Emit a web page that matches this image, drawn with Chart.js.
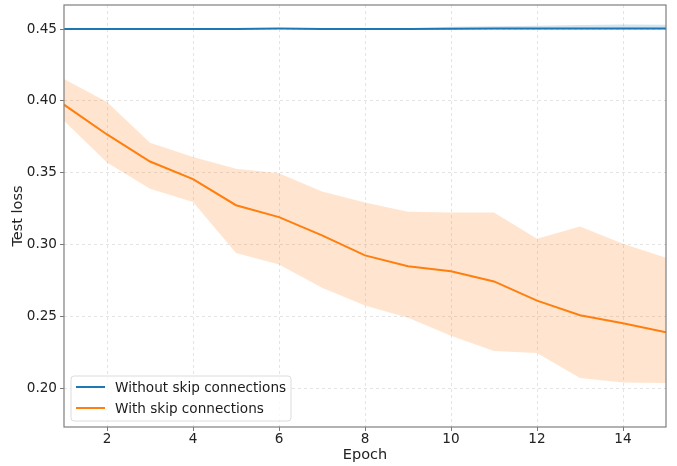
<!DOCTYPE html>
<html>
<head>
<meta charset="utf-8">
<script src="https://cdn.jsdelivr.net/npm/chart.js@4/dist/chart.umd.min.js"></script>
<style>
html,body{margin:0;padding:0;background:#fff;}
#wrap{width:677px;height:466px;position:relative;}
</style>
</head>
<body>
<div id="wrap"><canvas id="c" width="677" height="466"></canvas></div>
<script>
const epochs = [1,2,3,4,5,6,7,8,9,10,11,12,13,14,15];
const noSkipMean  = [0.4501,0.4501,0.4500,0.4500,0.4500,0.4503,0.4501,0.4501,0.4501,0.4502,0.4503,0.4503,0.4504,0.4504,0.4503];
const noSkipUpper = [0.4503,0.4503,0.4502,0.4502,0.4503,0.4506,0.4504,0.4504,0.4506,0.4515,0.4520,0.4522,0.4528,0.4532,0.4530];
const noSkipLower = [0.4499,0.4499,0.4498,0.4498,0.4498,0.4500,0.4498,0.4498,0.4497,0.4496,0.4497,0.4497,0.4497,0.4497,0.4497];
const skipMean  = [0.3974,0.3767,0.3579,0.3456,0.3275,0.3192,0.3065,0.2926,0.2851,0.2816,0.2745,0.2612,0.2510,0.2455,0.2391];
const skipUpper = [0.4153,0.3993,0.3709,0.3611,0.3528,0.3498,0.3370,0.3294,0.3229,0.3224,0.3224,0.3042,0.3127,0.3007,0.2910];
const skipLower = [0.3863,0.3572,0.3389,0.3298,0.2942,0.2863,0.2701,0.2578,0.2493,0.2368,0.2261,0.2247,0.2074,0.2042,0.2039];
const xTicks = [2,4,6,8,10,12,14];
const yTicks = [0.20,0.25,0.30,0.35,0.40,0.45];
const seriesLabels = ["Without skip connections","With skip connections"];

const BLUE = '#1f77b4', ORANGE = '#ff7f0e';
const pts = arr => arr.map((v,i)=>({x:epochs[i], y:v}));
const FONT = "'DejaVu Sans', sans-serif";

const framePlugin = {
  id:'frame',
  afterDatasetsDraw(chart){
    const {ctx, chartArea:a} = chart;
    ctx.save();
    ctx.strokeStyle = '#7f7f7f';
    ctx.lineWidth = 1.2;
    ctx.strokeRect(a.left, a.top, a.right-a.left, a.bottom-a.top);
    ctx.restore();
  },
  afterDraw(chart){
    const ctx = chart.ctx;
    const bx = 71, by = 376, bw = 220, bh = 45, r = 3;
    ctx.save();
    ctx.beginPath();
    ctx.moveTo(bx+r,by);ctx.lineTo(bx+bw-r,by);ctx.quadraticCurveTo(bx+bw,by,bx+bw,by+r);
    ctx.lineTo(bx+bw,by+bh-r);ctx.quadraticCurveTo(bx+bw,by+bh,bx+bw-r,by+bh);
    ctx.lineTo(bx+r,by+bh);ctx.quadraticCurveTo(bx,by+bh,bx,by+bh-r);
    ctx.lineTo(bx,by+r);ctx.quadraticCurveTo(bx,by,bx+r,by);ctx.closePath();
    ctx.fillStyle='rgba(255,255,255,0.8)';ctx.fill();
    ctx.strokeStyle='#dcdcdc';ctx.lineWidth=1;ctx.stroke();
    const colors=[BLUE,ORANGE]; const ys=[387,408];
    ctx.font = "13.6px " + FONT;
    ctx.textBaseline='middle';ctx.textAlign='left';
    for(let i=0;i<2;i++){
      ctx.strokeStyle=colors[i];ctx.lineWidth=2;
      ctx.beginPath();ctx.moveTo(76,ys[i]);ctx.lineTo(105,ys[i]);ctx.stroke();
      ctx.fillStyle='#1a1a1a';
      ctx.fillText(seriesLabels[i],115,ys[i]+1);
    }
    ctx.restore();
  }
};

new Chart(document.getElementById('c'),{
  type:'line',
  data:{
    datasets:[
      {label:'noskip-upper',data:pts(noSkipUpper),borderWidth:0,pointRadius:0,fill:'+1',backgroundColor:'rgba(31,119,180,0.2)',borderColor:'rgba(0,0,0,0)'},
      {label:'noskip-lower',data:pts(noSkipLower),borderWidth:0,pointRadius:0,fill:false,borderColor:'rgba(0,0,0,0)'},
      {label:'skip-upper',data:pts(skipUpper),borderWidth:0,pointRadius:0,fill:'+1',backgroundColor:'rgba(255,127,14,0.2)',borderColor:'rgba(0,0,0,0)'},
      {label:'skip-lower',data:pts(skipLower),borderWidth:0,pointRadius:0,fill:false,borderColor:'rgba(0,0,0,0)'},
      {label:seriesLabels[0],data:pts(noSkipMean),borderColor:BLUE,borderWidth:2,pointRadius:0,fill:false,tension:0},
      {label:seriesLabels[1],data:pts(skipMean),borderColor:ORANGE,borderWidth:2,pointRadius:0,fill:false,tension:0}
    ]
  },
  options:{
    responsive:false,animation:false,
    layout:{padding:{left:0,right:11,top:5,bottom:0}},
    plugins:{legend:{display:false},tooltip:{enabled:false}},
    scales:{
      x:{type:'linear',min:1,max:15,
        afterBuildTicks:s=>{s.ticks=xTicks.map(v=>({value:v}));},
        afterFit:s=>{s.height=39;s.paddingLeft=0;s.paddingRight=0;},
        grid:{color:'#dddddd',lineWidth:0.8,tickLength:4,tickColor:'#555',drawTicks:true},
        border:{display:false,dash:[3,3]},
        ticks:{font:{family:FONT,size:13.6},color:'#222',padding:0,maxRotation:0,callback:v=>String(v)},
        title:{display:true,text:'Epoch',font:{family:FONT,size:14.5},color:'#222',padding:{top:0,bottom:2}}
      },
      y:{type:'linear',min:0.1733,max:0.4667,
        afterBuildTicks:s=>{s.ticks=yTicks.map(v=>({value:v}));},
        afterFit:s=>{s.width=64;s.paddingTop=0;s.paddingBottom=0;},
        grid:{color:'#dddddd',lineWidth:0.8,tickLength:4,tickColor:'#555'},
        border:{display:false,dash:[3,3]},
        ticks:{font:{family:FONT,size:13.6},color:'#222',padding:3,callback:v=>v.toFixed(2)},
        title:{display:true,text:'Test loss',font:{family:FONT,size:14.5},color:'#222',padding:{top:10,bottom:0}}
      }
    }
  },
  plugins:[framePlugin]
});
</script>
</body>
</html>
